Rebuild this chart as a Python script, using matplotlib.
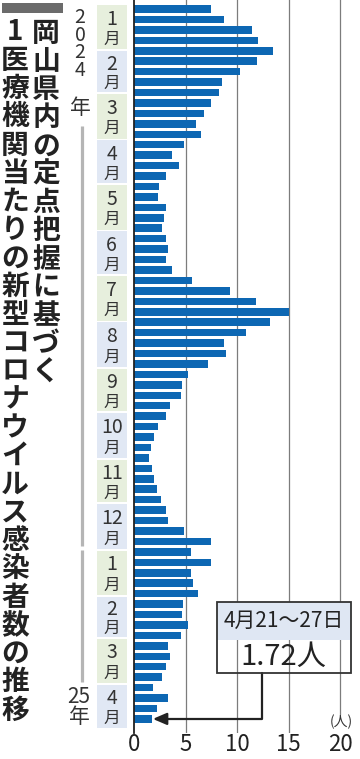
import datetime
import matplotlib.pyplot as plt
import matplotlib.transforms as mtransforms
from matplotlib.patches import Rectangle

plt.rcParams['font.family'] = ['Noto Sans CJK JP', 'DejaVu Sans']

# --- datos: personas por institución médica, semanal (ene 2024 - 21~27 abr 2025)
valores = [7.44, 8.7, 11.4, 12.0, 13.5, 11.9, 10.3, 8.5, 8.2, 7.5,
           6.8, 6.0, 6.5, 4.85, 3.7, 4.4, 3.1, 2.4, 2.3, 3.1,
           2.95, 2.75, 3.1, 3.27, 3.1, 3.7, 5.63, 9.35, 11.8, 15.0,
           13.2, 10.9, 8.7, 8.9, 7.2, 5.24, 4.63, 4.56, 3.46, 3.14,
           2.3, 1.97, 1.62, 1.46, 1.75, 1.97, 2.2, 2.6, 3.14, 3.33,
           4.8, 7.47, 5.53, 7.5, 5.53, 5.76, 6.24, 4.72, 4.66, 5.24,
           4.56, 3.33, 3.46, 3.08, 2.75, 1.88, 3.27, 2.27, 1.72]
meses = [(2024, m) for m in range(1, 13)] + [(2025, m) for m in range(1, 5)]
ticks_x = [0, 5, 10, 15, 20]
titulo_der = '岡山県内の定点把握に基づく'
titulo_izq = '1医療機関当たりの新型コロナウイルス感染者数の推移'
nota_fecha = '4月21～27日'
nota_valor = '1.72人'

inicio = datetime.date(2024, 1, 1)

azul = '#0d67b3'
verde_caja = '#e7efdd'
azul_caja = '#e1e8f4'
texto = '#333333'

fig = plt.figure(figsize=(3.6, 7.59), dpi=100)

# ejes principales (x = personas, y = semana)
ax = fig.add_axes([134 / 360, 26 / 759, 208 / 360, 733 / 759])
ax.barh(range(len(valores)), valores, height=0.72, color=azul, zorder=2)
ax.set_xlim(0, 208 / 10.315)
ax.set_ylim(69.35, -0.862)
for v in [5, 10, 15]:
    ax.axvline(v, color='#7c7c7c', lw=0.9, zorder=0)
ax.axvline(20, ymin=19 / 733, color='#7c7c7c', lw=0.9, zorder=0)
for s in ['top', 'right', 'bottom']:
    ax.spines[s].set_visible(False)
ax.spines['left'].set_color('#222222')
ax.spines['left'].set_linewidth(1.3)
ax.set_yticks([])
ax.set_xticks(ticks_x)
ax.set_xticklabels([str(t) for t in ticks_x], fontsize=16, color='#222222')
ax.tick_params(axis='x', length=0, pad=0)

# capa superpuesta en píxeles para textos y cajas
ov = fig.add_axes([0, 0, 1, 1])
ov.set_xlim(0, 360)
ov.set_ylim(759, 0)
ov.axis('off')
mezcla = mtransforms.blended_transform_factory(ov.transData, ax.transData)

# cajas de meses
for anho, mes in meses:
    d0 = (datetime.date(anho, mes, 1) - inicio).days
    sig = datetime.date(anho + mes // 12, mes % 12 + 1, 1)
    d1 = (sig - inicio).days
    y0 = d0 / 7 - 0.5
    y1 = d1 / 7 - 0.5
    color = verde_caja if mes % 2 == 1 else azul_caja
    ov.add_patch(Rectangle((96.7, y0 + 0.09), 30, (y1 - y0) - 0.18, transform=mezcla,
                           facecolor=color, edgecolor='none', clip_on=False))
    ov.text(111.7, y0 + 0.33 * (y1 - y0), str(mes), transform=mezcla, ha='center', va='center',
            fontsize=14, color=texto)
    ov.text(111.7, y0 + 0.77 * (y1 - y0), '月', transform=mezcla, ha='center', va='center',
            fontsize=12, color=texto)

# etiquetas de año
ov.text(80, 44, '2\n0\n2\n4', ha='center', va='center', fontsize=14, color=texto,
        linespacing=0.8)
ov.text(80, 108, '年', ha='center', va='center', fontsize=15, color=texto)
ov.plot([81.5, 81.5], [126, 546], color='#b5b5b5', lw=2.3, solid_capstyle='butt')
ov.plot([81.5, 81.5], [550, 682], color='#b5b5b5', lw=2.3, solid_capstyle='butt')
ov.text(79, 707, '25\n年', ha='center', va='center', fontsize=15, color=texto,
        linespacing=0.85)

# título vertical
ov.add_patch(Rectangle((2, 3), 61, 10, facecolor='#6b6b6b', edgecolor='none'))
paso = 28.25
for k, ch in enumerate(titulo_der):
    ov.text(46, 33.5 + k * paso, ch, ha='center', va='center', fontsize=20,
            fontweight='bold', color='#222222')
for k, ch in enumerate(titulo_izq):
    ov.text(15, 32.5 + k * paso, ch, ha='center', va='center', fontsize=20,
            fontweight='bold', color='#222222')

# unidad
ov.text(341, 722, '(人)', ha='center', va='center', fontsize=10, color=texto)

# recuadro de nota
ov.add_patch(Rectangle((216.7, 602), 134, 38, facecolor='#dfe7f3', edgecolor='none'))
ov.add_patch(Rectangle((216.7, 602), 134, 71, facecolor='none', edgecolor='#333333', lw=1.3))
ov.text(283.7, 621, nota_fecha, ha='center', va='center', fontsize=15, color='#222222')
ov.text(283.7, 657, nota_valor, ha='center', va='center', fontsize=21, color='#222222')

ax.annotate('', xy=(valores[-1] + 0.1, len(valores) - 1), xycoords='data',
            xytext=(261.7, 673), textcoords=ov.transData,
            arrowprops=dict(arrowstyle='-|>,head_length=0.7,head_width=0.3',
                            connectionstyle='angle,angleA=90,angleB=0,rad=0',
                            color='#222222', lw=1.6, shrinkA=0, shrinkB=0,
                            mutation_scale=12))

fig.savefig('out.png', dpi=100)
